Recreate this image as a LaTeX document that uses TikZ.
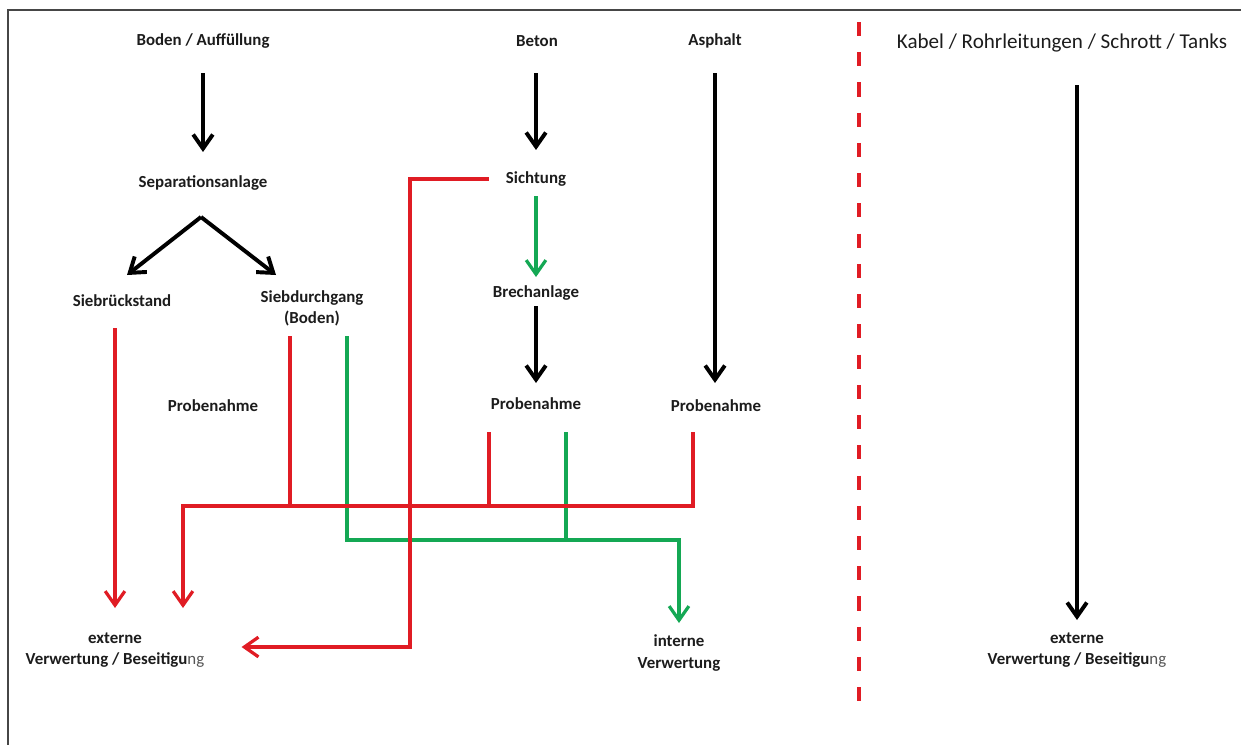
\documentclass[tikz,border=0pt]{standalone}
\usepackage{fontspec}
\setmainfont{Carlito}
\usetikzlibrary{arrows.meta}
\definecolor{flowred}{RGB}{224,28,36}
\definecolor{flowgreen}{RGB}{20,168,84}
\definecolor{framegray}{RGB}{70,70,70}
\definecolor{txt}{RGB}{28,28,28}
\begin{document}
\begin{tikzpicture}[x=0.025cm,y=-0.025cm,
  lbl/.style={inner sep=0pt,align=center,text=txt,font=\bfseries\fontsize{12}{15}\selectfont},
  tip/.style={-{Straight Barb[length=10pt,width=14pt]}},
  blackflow/.style={tip,black,line width=2.8pt},
  redpipe/.style={flowred,line width=2.3pt},
  greenpipe/.style={flowgreen,line width=2.3pt},
  redflow/.style={redpipe,tip},
  greenflow/.style={greenpipe,tip}]
\useasboundingbox (0,0) rectangle (1241,744);

% frame and divider
\draw[framegray,line width=1.6pt] (8,760) -- (8,10) -- (1260,10);
\draw[flowred,line width=2.5pt,dash pattern=on 10pt off 11.5pt] (859,22) -- (859,702);

% nodes
\node[lbl] (boden) at (203,41) {Boden / Auffüllung};
\node[lbl] (beton) at (537,41) {Beton};
\node[lbl] (asphalt) at (715,41) {Asphalt};
\node[inner sep=0pt,text=txt,font=\fontsize{15}{18}\selectfont] (kabel) at (1062,43) {Kabel / Rohrleitungen / Schrott / Tanks};
\node[lbl] (sep) at (203,183) {Separationsanlage};
\node[lbl] (sicht) at (536,179) {Sichtung};
\node[lbl] (brech) at (536,293) {Brechanlage};
\node[lbl] (rueck) at (122,301) {Siebrückstand};
\node[lbl] (durch) at (312,308) {Siebdurchgang\\(Boden)};
\node[lbl] (probeA) at (213,406) {Probenahme};
\node[lbl] (probeB) at (536,404) {Probenahme};
\node[lbl] (probeC) at (716,406) {Probenahme};
\node[lbl] (extA) at (115,650) {externe\\Verwertung / Beseitigu{\mdseries\color{txt!75}ng}};
\node[lbl] (intern) at (679,653) {interne\\Verwertung};
\node[lbl] (extB) at (1077,650) {externe\\Verwertung / Beseitigu{\mdseries\color{txt!75}ng}};

% free ends
\coordinate (split) at (201,217);
\coordinate (tipL) at (127,275);
\coordinate (tipR) at (276,275);
\coordinate (durchR) at (290,336);
\coordinate (durchG) at (347,336);
\coordinate (betonR) at (489,432);
\coordinate (betonG) at (566,432);
\coordinate (asphR) at (693,432);
\coordinate (busL) at (183,506);
\coordinate (endL) at (183,608);
\coordinate (gBusR) at (679,540);
\coordinate (sichtDrop) at (410,647);

% black arrows
\draw[blackflow,shorten <=0.8cm,shorten >=0.775cm] (boden.center) -- (sep.center);
\draw[blackflow] (split) -- (tipL);
\draw[blackflow] (split) -- (tipR);
\draw[blackflow,shorten <=0.8cm,shorten >=0.725cm] (beton.center -| sicht.center) -- (sicht.center);
\draw[blackflow,shorten <=0.325cm,shorten >=0.525cm] (brech.center) -- (probeB.center);
\draw[blackflow,shorten <=0.8cm,shorten >=0.575cm] (asphalt.center) -- (asphalt.center |- probeC.center);
\draw[blackflow,shorten <=1.05cm,shorten >=0.75cm] (extB.center |- kabel.center) -- (extB.center);

% green
\draw[greenflow,shorten <=0.425cm,shorten >=0.4cm] (sicht.center) -- (brech.center);
\draw[greenflow,shorten >=0.75cm] (durchG) |- (gBusR) -- (intern.center);
\draw[greenpipe] (betonG) -- (betonG |- gBusR);

% red
\draw[redflow,shorten <=0.675cm,shorten >=1.05cm] (extA.center |- rueck.center) -- (extA.center);
\draw[redflow] (asphR) |- (busL) -- (endL);
\draw[redpipe] (betonR) -- (betonR |- busL);
\draw[redpipe] (durchR) -- (durchR |- busL);
\draw[redflow,shorten <=0.425cm,shorten >=0.925cm] (sicht.west) -| (sichtDrop) -- (sichtDrop -| extA.east);
\end{tikzpicture}
\end{document}
